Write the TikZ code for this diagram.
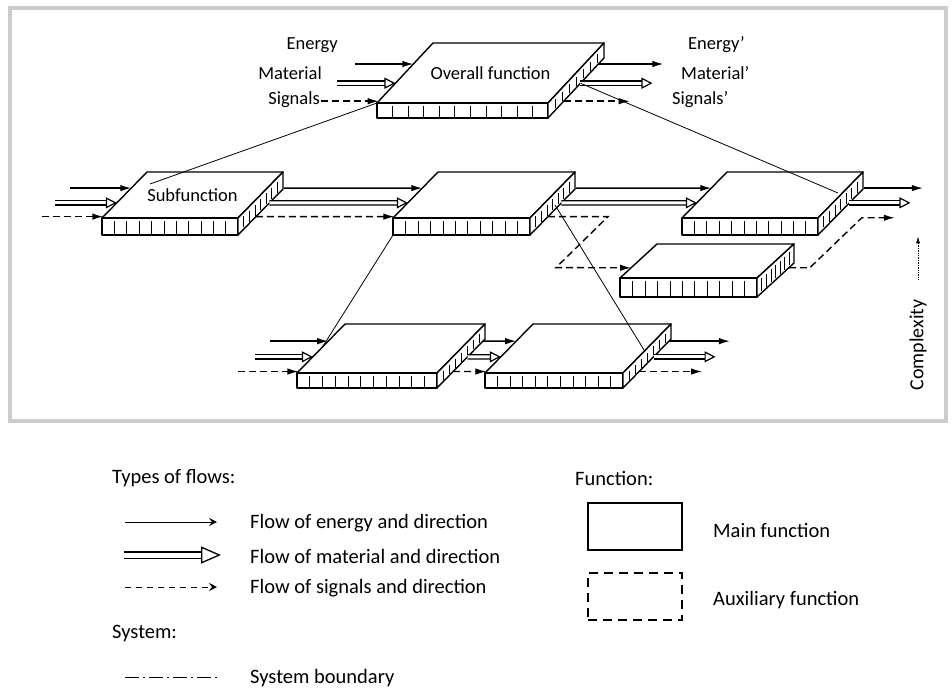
\documentclass[tikz,border=0pt]{standalone}
\usepackage{fontspec}
\setmainfont{Carlito}
\usetikzlibrary{arrows.meta, calc}

% one function block as a slab: name, x, y (front top left), width, depth dx, depth dy, thickness, label
\newcommand{\fblock}[8]{%
  \coordinate (#1-fl) at (#2,#3);
  \coordinate (#1-fr) at (#2+#4,#3);
  \coordinate (#1-bl) at (#2+#5,#3-#6);
  \coordinate (#1-br) at (#2+#4+#5,#3-#6);
  \coordinate (#1-ff) at (#2,#3+#7);
  \coordinate (#1-fb) at (#2+#4,#3+#7);
  \coordinate (#1-bb) at (#2+#4+#5,#3-#6+#7);
  \draw[face] (#1-fl) -- (#1-bl) -- (#1-br) -- (#1-fr) -- cycle;
  \draw[face] (#1-fl) rectangle (#1-fb);
  \draw[face] (#1-fr) -- (#1-br) -- (#1-bb) -- (#1-fb) -- cycle;
  \foreach \k in {1,...,10}
    \draw[tick] (#2+\k*#4/11,#3+3) -- ++(0,#7-4);
  \foreach \k in {1,...,7}
    \draw[tick] ($(#1-fr)!\k/8!(#1-br)+(0,4)$) -- ++(0,#7-6);
  \coordinate (#1-ein) at ($(#1-fl)!0.65!(#1-bl)$);
  \coordinate (#1-min) at ($(#1-fl)!0.33!(#1-bl)$);
  \coordinate (#1-sin) at ($(#1-fl)!0.03!(#1-bl)$);
  \coordinate (#1-eout) at ($(#1-fb)!{0.65+#7/#6}!(#1-bb)$);
  \coordinate (#1-mout) at ($(#1-fb)!{0.33+#7/#6}!(#1-bb)$);
  \coordinate (#1-sout) at ($(#1-fb)!{0.03+#7/#6}!(#1-bb)$);
  \node[lbl] (#1) at ($(#1-fl)!0.5!(#1-br)$) {#8};
}

\begin{document}
\begin{tikzpicture}[x=1pt, y=-1pt,
  >={Latex[length=11pt, width=6.5pt]},
  face/.style={draw=black, fill=white, line width=1.4pt, line join=round},
  tick/.style={line width=0.6pt},
  lbl/.style={font=\fontsize{18.5}{22}\selectfont, inner sep=1pt},
  energy/.style={->, line width=1.4pt},
  material/.style={-{Triangle[open, length=11pt, width=11pt]}, double, double distance=3pt, line width=1.2pt},
  signal/.style={->, line width=1.4pt, dash pattern=on 7pt off 4pt},
  hier/.style={line width=0.8pt},
  legtxt/.style={font=\fontsize{20.5}{24}\selectfont, anchor=west, inner sep=0pt},
]
\useasboundingbox (0,0) rectangle (952,690);

% frame of the diagram
\draw[black!20, line width=4pt] (10,8) rectangle (946,421);

% blocks
\fblock{ov}{377}{103}{171}{56}{60}{15}{Overall function}
\fblock{sub}{102}{218}{136}{45}{46}{17}{Subfunction}
\fblock{mid}{393}{218}{137}{45}{46}{17}{}
\fblock{ur}{682}{218}{136}{45}{46}{17}{}
\fblock{aux}{620}{278}{137}{37}{34}{19}{}
\fblock{bl}{297}{373}{140}{48}{49}{15}{}
\fblock{brb}{485}{373}{138}{48}{49}{15}{}

% overall function: in and out
\draw[energy] ([xshift=-58pt]ov-ein) -- (ov-ein);
\draw[material] ([xshift=-58pt]ov-min) -- (ov-min);
\draw[signal] ([xshift=-58pt]ov-sin) -- (ov-sin);
\draw[energy] (ov-eout) -- ([xshift=65pt]ov-eout);
\draw[material] (ov-mout) -- ([xshift=72pt]ov-mout);
\draw[signal] (ov-sout) -- ([xshift=66pt]ov-sout);

\node[lbl, anchor=east] (l-en) at (339,45) {Energy};
\node[lbl, anchor=east] (l-ma) at (323,73) {Material};
\node[lbl, anchor=east] (l-si) at (321,100) {Signals};
\node[lbl, anchor=west] (r-en) at (687,45) {Energy'};
\node[lbl, anchor=west] (r-ma) at (680,73) {Material'};
\node[lbl, anchor=west] (r-si) at (671,100) {Signals'};

% subfunctions
\draw[energy] ([xshift=-61pt]sub-ein) -- (sub-ein);
\draw[material] ([xshift=-62pt]sub-min) -- (sub-min);
\draw[signal] ([xshift=-61pt]sub-sin) -- (sub-sin);
\draw[energy] (sub-eout) -- (mid-ein);
\draw[material] (sub-mout) -- (mid-min);
\draw[signal] (sub-sout) -- (mid-sin);
\draw[energy] (mid-eout) -- (ur-ein);
\draw[material] (mid-mout) -- (ur-min);
\draw[signal] (mid-sout) -- ++(60,0) -- ++(-52,51) -- ($(aux-fl)!0.3!(aux-bl)$);
\draw[energy] (ur-eout) -- ([xshift=59pt]ur-eout);
\draw[material] (ur-mout) -- ([xshift=61pt]ur-mout);
\draw[signal] ($(aux-fb)!0.86!(aux-bb)$) -- ++(21,0) -- ++(52,-50) -- ++(33,0);

% lower level
\draw[energy] ([xshift=-58pt]bl-ein) -- (bl-ein);
\draw[material] ([xshift=-58pt]bl-min) -- (bl-min);
\draw[signal] ([xshift=-60pt]bl-sin) -- (bl-sin);
\draw[energy] (bl-eout) -- (brb-ein);
\draw[material] (bl-mout) -- (brb-min);
\draw[signal] (bl-sout) -- (brb-sin);
\draw[energy] (brb-eout) -- ([xshift=61pt]brb-eout);
\draw[material] (brb-mout) -- ([xshift=62pt]brb-mout);
\draw[signal] (brb-sout) -- ([xshift=63pt]brb-sout);

% decomposition lines
\coordinate (sub-h) at (150,184);
\coordinate (ur-h) at (838,193);
\coordinate (mid-h) at (555,205);
\draw[hier] (ov-fl) -- (sub-h);
\draw[hier] (ov-mout) -- (ur-h);
\draw[hier] (mid-ff) -- ($(bl-fl)!0.53!(bl-bl)$);
\draw[hier] (mid-h) -- ($(brb-fr)!0.45!(brb-br)$);

% complexity
\node[lbl, rotate=90, font=\fontsize{20}{24}\selectfont] (cplx) at (918,345) {Complexity};
\draw[->, line width=0.7pt, densely dotted, >={Latex[length=7pt, width=4pt]}]
  ($(cplx.east)+(0,-19)$) -- ++(0,-43);

% legend: flows
\node[legtxt] (t-flows) at (112,478) {Types of flows:};
\coordinate (k-e) at (125,522);
\coordinate (k-m) at (124,555);
\coordinate (k-s) at (125,587);
\coordinate (k-b) at (125,677);
\draw[line width=1pt, -{Stealth[length=8pt, width=8pt, inset=3pt]}] (k-e) -- ++(92,0);
\draw[-{Triangle[open, length=20pt, width=17pt]}, double, double distance=5pt, line width=1.3pt] (k-m) -- ++(97,0);
\draw[line width=1pt, dash pattern=on 6pt off 5pt, -{Stealth[length=8pt, width=8pt, inset=3pt]}] (k-s) -- ++(92,0);
\node[legtxt] (e-txt) at (250,523) {Flow of energy and direction};
\node[legtxt] (m-txt) at (250,556) {Flow of material and direction};
\node[legtxt] (s-txt) at (250,588) {Flow of signals and direction};
\node[legtxt] (t-sys) at (112,633) {System:};
\draw[line width=1pt, dash pattern=on 14pt off 4pt on 2pt off 4pt] (k-b) -- ++(92,0);
\node[legtxt] (b-txt) at (250,678) {System boundary};

% legend: functions
\node[legtxt] (t-func) at (575,478) {Function:};
\node[draw, line width=1.5pt, minimum width=94pt, minimum height=47pt, inner sep=0pt] (k-main) at (635,526.5) {};
\node[draw, line width=1.5pt, dash pattern=on 9pt off 6pt, minimum width=94pt, minimum height=47pt, inner sep=0pt] (k-aux) at (635,596.5) {};
\node[legtxt] (main-txt) at (713,530) {Main function};
\node[legtxt] (aux-txt) at (713,600) {Auxiliary function};
\end{tikzpicture}
\end{document}
